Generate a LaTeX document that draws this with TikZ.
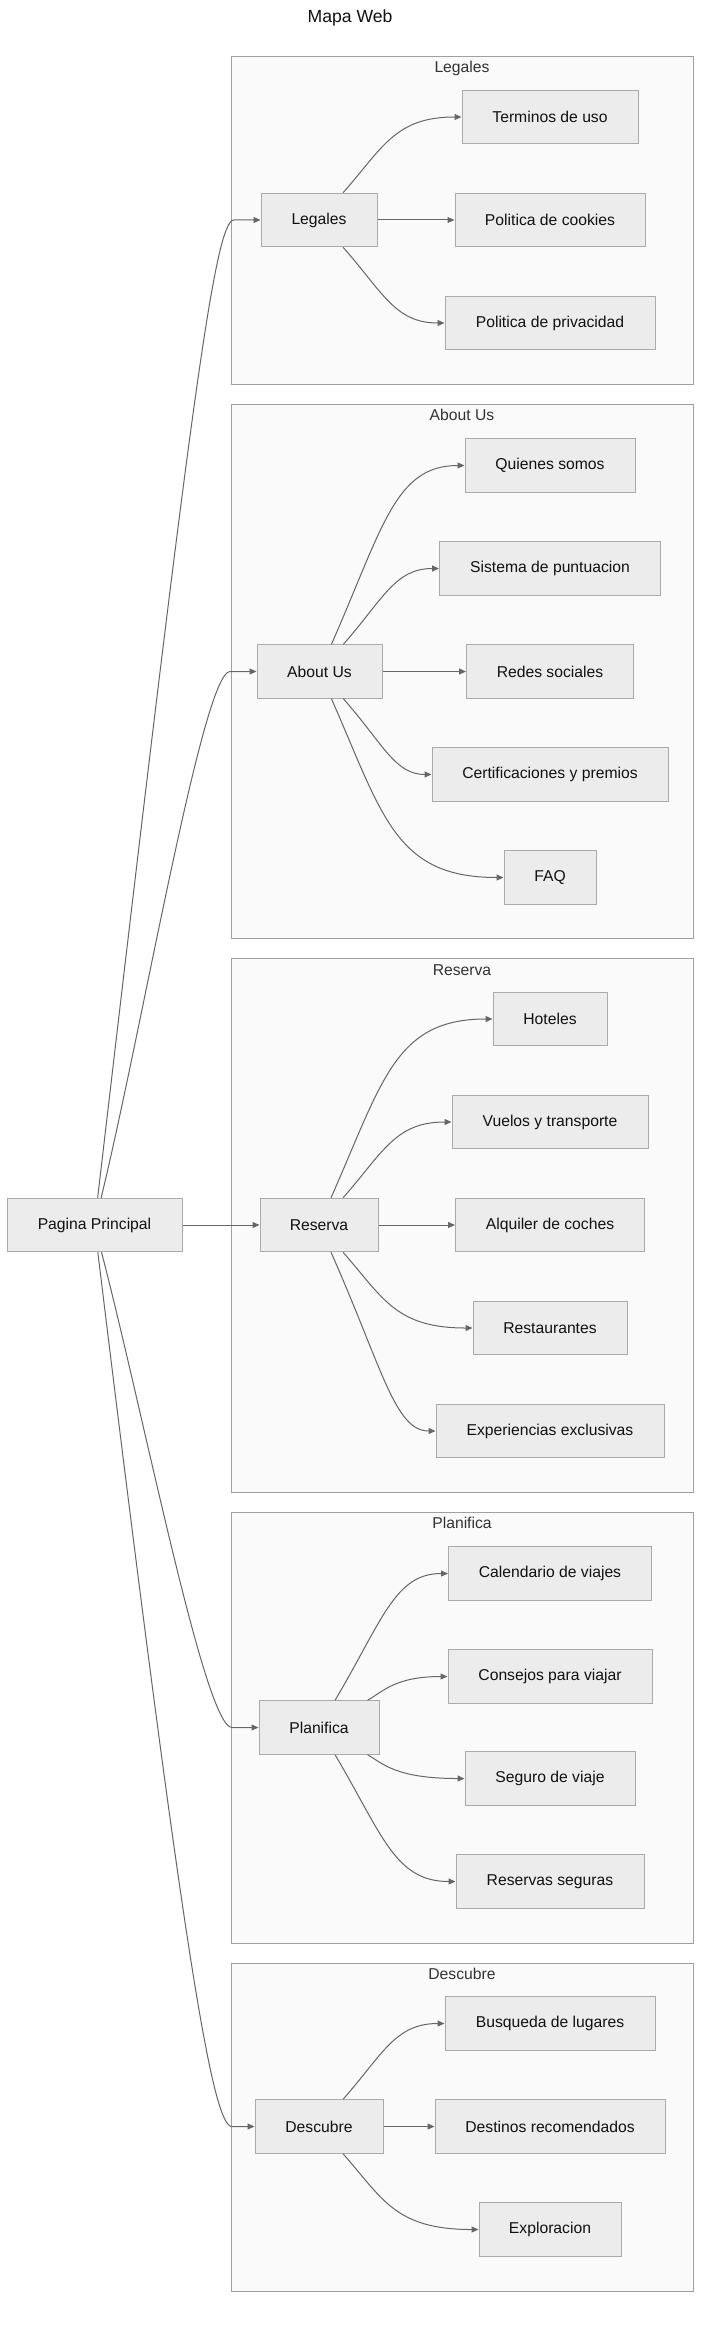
\documentclass[tikz,border=0pt]{standalone}
\usepackage{fontspec}
\setmainfont{Liberation Sans}
\usetikzlibrary{arrows.meta,calc}
\definecolor{nodefill}{HTML}{ECECEC}
\definecolor{nodeborder}{HTML}{AAAAAA}
\definecolor{clusterfill}{HTML}{FAFAFA}
\definecolor{clusterborder}{HTML}{A0A0A0}
\definecolor{edgegray}{HTML}{666666}
\definecolor{txt}{HTML}{111111}
\definecolor{ctxt}{HTML}{333333}
\newcommand\mykid[3]{\draw[edge] (#1) .. controls ($(#1.center)!0.7!(410,#3)$) and (395,#3) .. (#2.west);}
\begin{document}
\begin{tikzpicture}[x=1pt,y=-1pt,
  box/.style={draw=nodeborder, fill=nodefill, line width=1pt, rectangle, minimum height=53.5pt, inner sep=0pt, text=txt, font=\fontsize{15.7}{18}\selectfont},
  cluster/.style={draw=clusterborder, fill=clusterfill, line width=1pt, rectangle, inner sep=0pt, anchor=north west, minimum width=462pt},
  ctitle/.style={text=ctxt, font=\fontsize{15.7}{18}\selectfont, inner sep=0pt},
  edge/.style={draw=edgegray, line width=1pt, -{Triangle[length=7pt,width=6pt]}}]
\useasboundingbox (0,0) rectangle (709,2325);
\fill[white] (0,0) rectangle (709,2325);

\node[text=txt, font=\fontsize{17.6}{20}\selectfont, inner sep=0pt] (title) at (350,18) {Mapa Web};

% clusters
\node[cluster, minimum height=328pt] (cLeg) at (231,56) {};
\node[ctitle] (tLeg) at (462,68) {Legales};
\node[cluster, minimum height=534pt] (cAbout) at (231,404) {};
\node[ctitle] (tAbout) at (462,415) {About Us};
\node[cluster, minimum height=534pt] (cRes) at (231,958) {};
\node[ctitle] (tRes) at (462,970) {Reserva};
\node[cluster, minimum height=431pt] (cPlan) at (231,1512) {};
\node[ctitle] (tPlan) at (462,1523) {Planifica};
\node[cluster, minimum height=328pt] (cDesc) at (231,1963) {};
\node[ctitle] (tDesc) at (462,1974) {Descubre};

% main
\node[box, minimum width=175pt] (main) at (94.5,1225) {Pagina Principal};

% Legales
\node[box, minimum width=116pt] (legales) at (319,220) {Legales};
\node[box, minimum width=176pt] (terminos) at (550,117) {Terminos de uso};
\node[box, minimum width=190pt] (cookies) at (550,220) {Politica de cookies};
\node[box, minimum width=210pt] (privacidad) at (550,323) {Politica de privacidad};

% About Us
\node[box, minimum width=125pt] (about) at (319.5,671.5) {About Us};
\node[box, minimum width=170pt] (quienes) at (550,465.5) {Quienes somos};
\node[box, minimum width=221pt] (sistema) at (550,568.5) {Sistema de puntuacion};
\node[box, minimum width=167pt] (redes) at (550,671.5) {Redes sociales};
\node[box, minimum width=236pt] (certif) at (550,774.5) {Certificaciones y premios};
\node[box, minimum width=92pt] (faq) at (550,877.5) {FAQ};

% Reserva
\node[box, minimum width=118pt] (reserva) at (319,1225) {Reserva};
\node[box, minimum width=114pt] (hoteles) at (550,1019) {Hoteles};
\node[box, minimum width=196pt] (vuelos) at (550,1122) {Vuelos y transporte};
\node[box, minimum width=189pt] (alquiler) at (550,1225) {Alquiler de coches};
\node[box, minimum width=154pt] (restaurantes) at (550,1328) {Restaurantes};
\node[box, minimum width=228pt] (experiencias) at (550,1431) {Experiencias exclusivas};

% Planifica
\node[box, minimum width=120pt] (planifica) at (319,1727.5) {Planifica};
\node[box, minimum width=203pt] (calendario) at (550,1573.5) {Calendario de viajes};
\node[box, minimum width=204pt] (consejos) at (550,1676.5) {Consejos para viajar};
\node[box, minimum width=170pt] (seguro) at (550,1778.5) {Seguro de viaje};
\node[box, minimum width=188pt] (resseg) at (550,1881.5) {Reservas seguras};

% Descubre
\node[box, minimum width=128pt] (descubre) at (319,2126.5) {Descubre};
\node[box, minimum width=210pt] (busqueda) at (550,2023.5) {Busqueda de lugares};
\node[box, minimum width=230pt] (destinos) at (550,2126.5) {Destinos recomendados};
\node[box, minimum width=142pt] (exploracion) at (550,2229.5) {Exploracion};

% main edges
\draw[edge] (main) .. controls (191,398) and (215,220) .. (234,220) -- (legales.west);
\draw[edge] (main) .. controls (142,1030) and (203,671.5) .. (230,671.5) -- (about.west);
\draw[edge] (main) -- (reserva);
\draw[edge] (main) .. controls (145,1420) and (205,1727.5) .. (232,1727.5) -- (planifica.west);
\draw[edge] (main) .. controls (185,1968) and (213,2126.5) .. (232,2126.5) -- (descubre.west);

% Legales edges
\mykid{legales}{terminos}{117}
\draw[edge] (legales) -- (cookies);
\mykid{legales}{privacidad}{323}

% About edges
\mykid{about}{quienes}{465.5}
\mykid{about}{sistema}{568.5}
\draw[edge] (about) -- (redes);
\mykid{about}{certif}{774.5}
\mykid{about}{faq}{877.5}

% Reserva edges
\mykid{reserva}{hoteles}{1019}
\mykid{reserva}{vuelos}{1122}
\draw[edge] (reserva) -- (alquiler);
\mykid{reserva}{restaurantes}{1328}
\mykid{reserva}{experiencias}{1431}

% Planifica edges
\mykid{planifica}{calendario}{1573.5}
\mykid{planifica}{consejos}{1676.5}
\mykid{planifica}{seguro}{1778.5}
\mykid{planifica}{resseg}{1881.5}

% Descubre edges
\mykid{descubre}{busqueda}{2023.5}
\draw[edge] (descubre) -- (destinos);
\mykid{descubre}{exploracion}{2229.5}
\end{tikzpicture}
\end{document}
